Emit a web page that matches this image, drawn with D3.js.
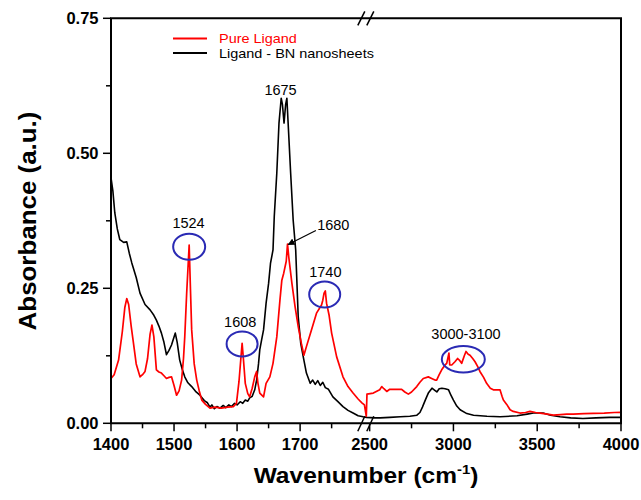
<!DOCTYPE html>
<html>
<head>
<meta charset="utf-8">
<script src="https://cdn.jsdelivr.net/npm/d3@7"></script>
<style>
  html, body { margin: 0; padding: 0; background: #fff; }
  svg { display: block; }
  text { font-family: "Liberation Sans", Arial, Helvetica, sans-serif; }
</style>
</head>
<body>
<svg id="chart" width="641" height="500"></svg>
<script>
// ---- Data (wavenumber in cm-1, absorbance in a.u.) ----
const seriesNames = ["Pure Ligand", "Ligand - BN nanosheets"];
const seriesColors = ["#ff0000", "#000000"];

// Pure Ligand – low-wavenumber segment (1400–1805)
const ligandLowWn = [1400,1405,1412,1418,1422,1425,1428,1432,1435,1440,1446,1450,1454,1458,1462,1465,1468,1472,1476,1480,1484,1488,1492,1496,1500,1504,1508,1512,1515,1517,1520,1524,1526,1528,1532,1536,1540,1544,1550,1557,1565,1575,1585,1594,1599,1603,1606,1608,1610,1613,1617,1620,1624,1628,1631,1633,1636,1642,1646,1652,1657,1663,1668,1671,1674,1678,1680,1682,1687,1692,1697,1702,1706,1710,1718,1726,1734,1736,1738,1740,1742,1746,1750,1758,1768,1776,1784,1792,1798,1802,1805];
const ligandLowAbs = [0.083,0.090,0.117,0.170,0.215,0.231,0.220,0.180,0.154,0.110,0.086,0.090,0.096,0.120,0.165,0.182,0.160,0.099,0.095,0.093,0.088,0.083,0.085,0.086,0.070,0.052,0.060,0.080,0.120,0.160,0.240,0.330,0.250,0.173,0.110,0.080,0.060,0.043,0.035,0.028,0.030,0.028,0.030,0.031,0.037,0.077,0.120,0.148,0.120,0.074,0.055,0.049,0.065,0.086,0.096,0.075,0.056,0.049,0.074,0.086,0.111,0.160,0.228,0.265,0.278,0.300,0.332,0.308,0.259,0.216,0.179,0.148,0.126,0.142,0.173,0.204,0.219,0.228,0.241,0.245,0.222,0.200,0.167,0.123,0.086,0.068,0.056,0.045,0.038,0.034,0.013];

// Pure Ligand – high-wavenumber segment (2480–4000)
const ligandHighWn = [2480,2484,2522,2560,2572,2585,2602,2620,2641,2670,2691,2710,2731,2750,2781,2800,2820,2850,2870,2890,2900,2915,2930,2950,2960,2973,2978,2990,3009,3025,3035,3049,3065,3075,3088,3099,3115,3129,3145,3158,3180,3198,3220,3238,3278,3290,3298,3318,3338,3357,3397,3430,3457,3490,3517,3560,3596,3640,3676,3715,3780,3835,3900,3960,4000];
const ligandHighAbs = [0.013,0.054,0.056,0.062,0.068,0.064,0.059,0.063,0.063,0.063,0.063,0.058,0.054,0.058,0.068,0.076,0.083,0.086,0.083,0.080,0.080,0.090,0.099,0.108,0.111,0.130,0.108,0.108,0.114,0.120,0.117,0.111,0.125,0.133,0.128,0.126,0.120,0.114,0.105,0.096,0.085,0.074,0.065,0.062,0.062,0.050,0.043,0.035,0.025,0.022,0.019,0.020,0.022,0.020,0.019,0.017,0.015,0.016,0.017,0.017,0.018,0.0185,0.019,0.020,0.0204];

// Ligand - BN nanosheets – low segment
const bnLowWn = [1400,1403,1406,1410,1414,1420,1425,1429,1433,1440,1446,1454,1462,1468,1472,1476,1480,1484,1488,1492,1496,1500,1502,1505,1509,1513,1517,1522,1528,1535,1541,1548,1553,1557,1560,1564,1568,1573,1578,1582,1587,1591,1596,1600,1605,1609,1613,1617,1620,1624,1628,1631,1634,1636,1639,1642,1646,1650,1653,1657,1659,1663,1666.5,1670,1672,1674.5,1677,1679,1681,1685,1689,1693,1695,1697,1701,1706,1710,1716,1720,1724,1728,1732,1736,1740,1745,1752,1760,1768,1776,1784,1792,1800,1805];
const bnLowAbs = [0.455,0.430,0.390,0.360,0.340,0.335,0.336,0.315,0.297,0.270,0.241,0.220,0.210,0.200,0.191,0.180,0.167,0.150,0.127,0.135,0.145,0.160,0.167,0.150,0.117,0.100,0.086,0.075,0.068,0.058,0.052,0.042,0.038,0.030,0.034,0.027,0.031,0.028,0.033,0.029,0.034,0.031,0.037,0.034,0.040,0.037,0.043,0.041,0.047,0.050,0.062,0.080,0.110,0.136,0.155,0.173,0.222,0.259,0.296,0.321,0.383,0.463,0.556,0.602,0.590,0.556,0.590,0.602,0.556,0.463,0.376,0.321,0.259,0.197,0.148,0.117,0.093,0.074,0.080,0.072,0.079,0.070,0.076,0.066,0.063,0.049,0.040,0.031,0.024,0.019,0.014,0.012,0.011];

// Ligand - BN nanosheets – high segment
const bnHighWn = [2480,2530,2563,2620,2683,2740,2782,2800,2815,2832,2850,2872,2885,2901,2915,2931,2950,2971,2985,3000,3020,3040,3080,3120,3200,3279,3380,3440,3477,3535,3580,3636,3700,3773,3850,3930,4000];
const bnHighAbs = [0.011,0.010,0.010,0.011,0.012,0.013,0.015,0.020,0.030,0.043,0.056,0.065,0.062,0.058,0.064,0.065,0.064,0.062,0.052,0.043,0.032,0.025,0.018,0.015,0.013,0.012,0.014,0.017,0.019,0.019,0.015,0.012,0.010,0.009,0.010,0.011,0.011];

// Axis ticks
const xMajorLow = [1400, 1500, 1600, 1700];
const xMinorLow = [1450, 1550, 1650, 1750];
const xMajorHigh = [2500, 3000, 3500, 4000];
const xMinorHigh = [2750, 3250, 3750];
const yMajor = [0, 0.25, 0.5, 0.75];
const yMinor = [0.125, 0.375, 0.625];

// Annotations: label, wavenumber, absorbance (label & circle positions in data units)
const circleMarks = [
  {label: "1524", wn: 1524, abs: 0.327, rx: 16, ry: 13, lwn: 1523, labs: 0.361},
  {label: "1608", wn: 1608, abs: 0.147, rx: 15.5, ry: 12.5, lwn: 1605, labs: 0.179},
  {label: "1740", wn: 1739, abs: 0.2385, rx: 15.5, ry: 13, lwn: 1740, labs: 0.2715},
  {label: "3000-3100", wn: 3059, abs: 0.1185, rx: 21.5, ry: 13.3, lwn: 3075, labs: 0.1556}
];
const peakLabel = {label: "1675", wn: 1669, abs: 0.608};
const arrowLabel = {label: "1680", wn: 1725.5, abs: 0.358, fromWn: 1725, fromAbs: 0.357, toWn: 1681, toAbs: 0.331};

// ---- Layout ----
const svg = d3.select("#chart");
const L = 111, R = 621, T = 18.3, B = 423.3;
const xBreakPx = 366.3;

const x = d3.scaleLinear()
  .domain([1400, 1805, 2480, 4000])
  .range([L, xBreakPx, xBreakPx, R]);
const y = d3.scaleLinear().domain([0, 0.75]).range([B, T]);

const ligand = ligandLowWn.map((w, i) => [w, ligandLowAbs[i]])
  .concat(ligandHighWn.map((w, i) => [w, ligandHighAbs[i]]));
const bn = bnLowWn.map((w, i) => [w, bnLowAbs[i]])
  .concat(bnHighWn.map((w, i) => [w, bnHighAbs[i]]));

const line = d3.line().x(d => x(d[0])).y(d => y(d[1]));

// Curves
svg.append("path").datum(bn).attr("d", line)
  .attr("fill", "none").attr("stroke", seriesColors[1]).attr("stroke-width", 1.6)
  .attr("stroke-linejoin", "round");
svg.append("path").datum(ligand).attr("d", line)
  .attr("fill", "none").attr("stroke", seriesColors[0]).attr("stroke-width", 1.7)
  .attr("stroke-linejoin", "round");

// Frame: left, bottom, top, right
const frame = svg.append("g").attr("stroke", "#000").attr("stroke-width", 2).attr("fill", "none");
frame.append("path").attr("d", `M${L},${T} H${R} V${B} H${L} Z`).attr("stroke-linejoin", "miter");

// Break marks
const brk = svg.append("g").attr("stroke", "#000").attr("stroke-width", 1.5);
[xBreakPx - 5, xBreakPx + 4].forEach(cx => {
  brk.append("line").attr("x1", cx - 3.5).attr("y1", B + 8).attr("x2", cx + 3.5).attr("y2", B - 7);
  brk.append("line").attr("x1", cx - 3.5).attr("y1", T + 7).attr("x2", cx + 3.5).attr("y2", T - 7);
});

// X ticks
const xt = svg.append("g").attr("stroke", "#000").attr("stroke-width", 1.5);
xMajorLow.concat(xMajorHigh).forEach(v => {
  xt.append("line").attr("x1", x(v)).attr("x2", x(v)).attr("y1", B).attr("y2", B + 8);
});
xMinorLow.concat(xMinorHigh).forEach(v => {
  xt.append("line").attr("x1", x(v)).attr("x2", x(v)).attr("y1", B).attr("y2", B + 5);
});
svg.append("g").selectAll("text").data(xMajorLow.concat(xMajorHigh)).join("text")
  .attr("x", d => x(d)).attr("y", 450)
  .attr("text-anchor", "middle").attr("font-size", 16.5).attr("font-weight", "bold")
  .text(d => d);

// Y ticks
const yt = svg.append("g").attr("stroke", "#000").attr("stroke-width", 1.5);
yMajor.forEach(v => {
  yt.append("line").attr("x1", L - 8).attr("x2", L).attr("y1", y(v)).attr("y2", y(v));
});
yMinor.forEach(v => {
  yt.append("line").attr("x1", L - 5).attr("x2", L).attr("y1", y(v)).attr("y2", y(v));
});
svg.append("g").selectAll("text").data(yMajor).join("text")
  .attr("x", 98.5).attr("y", d => y(d)).attr("dy", "0.36em")
  .attr("text-anchor", "end").attr("font-size", 16.5).attr("font-weight", "bold")
  .text(d => d3.format(".2f")(d));

// Axis titles
const xTitle = svg.append("g").attr("transform", "translate(366,483) scale(1.14,1)")
  .append("text").attr("text-anchor", "middle").attr("font-size", 21.5).attr("font-weight", "bold");
xTitle.append("tspan").text("Wavenumber (cm");
xTitle.append("tspan").attr("font-size", 13).attr("dy", -9).text("-1");
xTitle.append("tspan").attr("dy", 9).text(")");

svg.append("g").attr("transform", "translate(36,221) rotate(-90) scale(1.08,1)")
  .append("text").attr("text-anchor", "middle").attr("font-size", 24).attr("font-weight", "bold")
  .text("Absorbance (a.u.)");

// Legend
const lg = svg.append("g");
[0, 1].forEach(i => {
  const by = i === 0 ? 43 : 57.5;
  lg.append("line").attr("x1", 173).attr("x2", 207).attr("y1", by - 4.5).attr("y2", by - 4.5)
    .attr("stroke", seriesColors[i]).attr("stroke-width", 2);
  lg.append("g").attr("transform", `translate(219,${by}) scale(1.07,1)`)
    .append("text").attr("font-size", 13.5)
    .attr("fill", seriesColors[i]).text(seriesNames[i]);
});

// Annotations
const ann = svg.append("g");
circleMarks.forEach(c => {
  ann.append("ellipse").attr("cx", x(c.wn)).attr("cy", y(c.abs)).attr("rx", c.rx).attr("ry", c.ry)
    .attr("fill", "none").attr("stroke", "#2a2ab4").attr("stroke-width", 2);
  ann.append("text").attr("x", x(c.lwn)).attr("y", y(c.labs)).attr("text-anchor", "middle")
    .attr("font-size", 14.5).text(c.label);
});
ann.append("text").attr("x", x(peakLabel.wn)).attr("y", y(peakLabel.abs)).attr("text-anchor", "middle")
  .attr("font-size", 14.5).text(peakLabel.label);

svg.append("defs").append("marker").attr("id", "ah").attr("viewBox", "0 0 10 10")
  .attr("refX", 9).attr("refY", 5).attr("markerWidth", 7).attr("markerHeight", 7)
  .attr("markerUnits", "userSpaceOnUse").attr("orient", "auto")
  .append("path").attr("d", "M0,0 L10,5 L0,10 Z").attr("fill", "#000");
ann.append("line")
  .attr("x1", x(arrowLabel.fromWn)).attr("y1", y(arrowLabel.fromAbs))
  .attr("x2", x(arrowLabel.toWn)).attr("y2", y(arrowLabel.toAbs))
  .attr("stroke", "#000").attr("stroke-width", 1.2).attr("marker-end", "url(#ah)");
ann.append("text").attr("x", x(arrowLabel.wn) + 1).attr("y", y(arrowLabel.abs))
  .attr("font-size", 14.5).text(arrowLabel.label);
</script>
</body>
</html>
